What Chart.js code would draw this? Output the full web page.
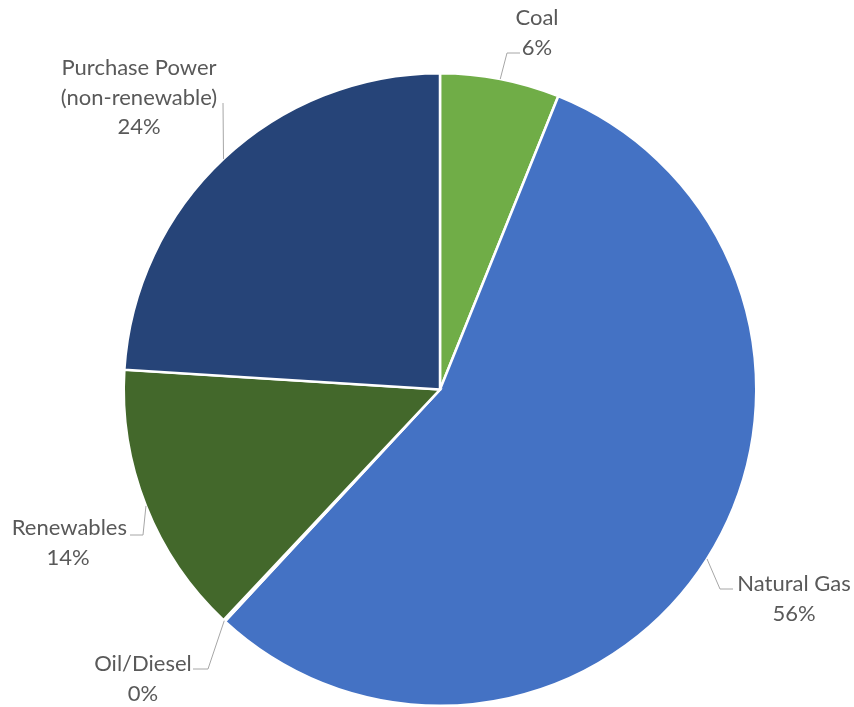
<!DOCTYPE html>
<html>
<head>
<meta charset="utf-8">
<script src="https://cdn.jsdelivr.net/npm/chart.js@4.4.1/dist/chart.umd.min.js"></script>
<style>
  html, body { margin:0; padding:0; background:#fff; }
  #wrap { width:854px; height:707px; position:relative; }
</style>
</head>
<body>
<div id="wrap"><canvas id="pie"></canvas></div>
<script>
// ── DATA ──────────────────────────────────────────────────
const CATEGORIES = ['Coal', 'Natural Gas', 'Oil/Diesel', 'Renewables', 'Purchase Power\n(non-renewable)'];
const SHARES     = [6.1, 55.8, 0.1, 14.0, 24.0];
const PCT_LABELS = ['6%', '56%', '0%', '14%', '24%'];
const COLORS     = ['#70ad47', '#4472c4', '#a5a5a5', '#43682b', '#264478'];

// label placement: text centre, first line y, leader elbow, leader end
const LABEL_LAYOUT = [
  { cx:537, y:18,  elbow:[507,53],  end:[520,53] },
  { cx:794, y:584, elbow:[720,589], end:[733,589] },
  { cx:143, y:664, elbow:[208,669], end:[193,669] },
  { cx:68,  y:528, elbow:[143,535], end:[130,535], textRight:127 },
  { cx:139, y:68,  elbow:[223,103], end:[223,103] },
];

const FONT = "22px Lato, 'Liberation Sans', sans-serif";
const LINE_H = 29.5;

const labelPlugin = {
  id:'calloutLabels',
  afterDraw(chart) {
    const ctx = chart.ctx;
    const meta = chart.getDatasetMeta(0);
    ctx.save();
    ctx.font = FONT;
    ctx.textBaseline = 'middle';
    meta.data.forEach((arc, i) => {
      const L = LABEL_LAYOUT[i];
      const mid = (arc.startAngle + arc.endAngle) / 2;
      const sx = arc.x + Math.cos(mid) * arc.outerRadius;
      const sy = arc.y + Math.sin(mid) * arc.outerRadius;
      ctx.strokeStyle = '#a6a6a6';
      ctx.lineWidth = 1;
      ctx.beginPath();
      ctx.moveTo(sx, sy);
      ctx.lineTo(L.elbow[0], L.elbow[1]);
      ctx.lineTo(L.end[0], L.end[1]);
      ctx.stroke();

      ctx.fillStyle = '#595959';
      const lines = CATEGORIES[i].split('\n').concat([PCT_LABELS[i]]);
      lines.forEach((t, j) => {
        const y = L.y + j * LINE_H;
        if (L.textRight && j === 0) {
          ctx.textAlign = 'right';
          ctx.fillText(t, L.textRight, y);
        } else {
          ctx.textAlign = 'center';
          ctx.fillText(t, L.cx, y);
        }
      });
    });
    ctx.restore();
  }
};

new Chart(document.getElementById('pie').getContext('2d'), {
  type:'pie',
  data:{
    labels:CATEGORIES,
    datasets:[{
      data:SHARES,
      backgroundColor:COLORS,
      borderColor:'#ffffff',
      borderWidth:2.5,
      borderJoinStyle:'miter',
    }]
  },
  options:{
    responsive:true,
    maintainAspectRatio:false,
    animation:false,
    layout:{ padding:{ top:72, bottom:0, left:30, right:4 } },
    plugins:{ legend:{ display:false }, tooltip:{ enabled:false } }
  },
  plugins:[labelPlugin]
});
</script>
</body>
</html>
